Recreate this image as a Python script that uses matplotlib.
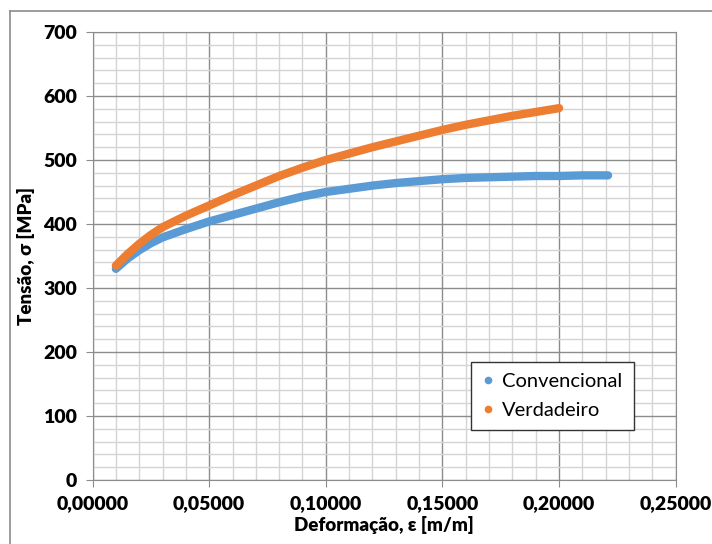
import matplotlib.pyplot as plt
from matplotlib.lines import Line2D
from matplotlib.ticker import MultipleLocator, FuncFormatter

plt.rcParams['font.family'] = ['Lato', 'DejaVu Sans']

# ensaio de tracao - curva convencional e verdadeira
eps_conv = [0.010, 0.015, 0.020, 0.025, 0.030, 0.040, 0.050, 0.060, 0.070, 0.080, 0.090, 0.100,
            0.110, 0.120, 0.130, 0.140, 0.150, 0.160, 0.170, 0.180, 0.190, 0.200, 0.210, 0.221]
sig_conv = [330, 346, 359, 370, 379, 392, 404, 414, 424, 434, 443, 450,
            455, 460, 464, 467, 470, 472, 473, 474, 475, 475, 476, 476]

eps_true = [0.010, 0.015, 0.020, 0.025, 0.030, 0.040, 0.050, 0.060, 0.070, 0.080, 0.090, 0.100,
            0.110, 0.120, 0.130, 0.140, 0.150, 0.160, 0.170, 0.180, 0.190, 0.200]
sig_true = [335, 353, 369, 383, 395, 413, 429, 445, 460, 475, 488, 500,
            510, 520, 529, 538, 547, 555, 562, 569, 575, 581]

series_names = ['Convencional', 'Verdadeiro']
series_colors = ['#5B9BD5', '#ED7D31']

fig = plt.figure(figsize=(7.12, 5.44), dpi=100)
ax = fig.add_axes([0.130, 0.1176, 0.819, 0.8236])

ax.plot(eps_conv, sig_conv, color=series_colors[0], lw=6, solid_capstyle='round', zorder=3)
ax.plot(eps_true, sig_true, color=series_colors[1], lw=6, solid_capstyle='round', zorder=4)

ax.set_xlim(0, 0.25)
ax.set_ylim(0, 700)
ax.xaxis.set_major_locator(MultipleLocator(0.05))
ax.xaxis.set_minor_locator(MultipleLocator(0.01))
ax.yaxis.set_major_locator(MultipleLocator(100))
ax.yaxis.set_minor_locator(MultipleLocator(20))
ax.xaxis.set_major_formatter(FuncFormatter(lambda v, p: f"{v:.5f}".replace('.', ',')))

ax.grid(which='major', color='#8c8c8c', lw=1.0)
ax.grid(which='minor', color='#d4d4d4', lw=1.0)
ax.set_axisbelow(True)
for s in ax.spines.values():
    s.set_color('#8c8c8c')
ax.tick_params(which='major', length=5, color='#8c8c8c', labelsize=14, pad=6)
ax.tick_params(which='minor', length=0)
for lab in ax.get_xticklabels() + ax.get_yticklabels():
    lab.set_fontweight('heavy')

ax.set_xlabel('Deformação, ε [m/m]', fontsize=13.5, fontweight='heavy', labelpad=3)
ax.set_ylabel('Tensão, σ [MPa]', fontsize=13.5, fontweight='heavy', labelpad=6)

handles = [Line2D([], [], ls='none', marker='o', ms=4.5, color=c) for c in series_colors]
leg = ax.legend(handles, series_names, loc='upper left', bbox_to_anchor=(0.632, 0.287),
                fontsize=14.5, frameon=True, fancybox=False, edgecolor='#333333',
                handlelength=0.6, handletextpad=0.4, borderpad=0.55, labelspacing=0.6,
                framealpha=1)
leg.get_frame().set_linewidth(1.0)

# moldura do grafico
fig.add_artist(Line2D([10 / 712, 1], [1 - 11 / 544, 1 - 11 / 544], color='#8c8c8c', lw=1.2))
fig.add_artist(Line2D([10 / 712, 10 / 712], [0, 1 - 11 / 544], color='#8c8c8c', lw=1.2))

fig.savefig('out.png', dpi=100)
